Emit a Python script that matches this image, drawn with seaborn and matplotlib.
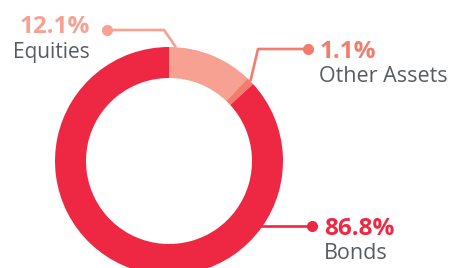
import numpy as np
import matplotlib
matplotlib.use("Agg")
import matplotlib.pyplot as plt
import seaborn as sns

labels = ["Equities", "Other Assets", "Bonds"]
values = [12.1, 1.1, 86.8]
pct_labels = ["12.1%", "1.1%", "86.8%"]
colors = ["#F6A192", "#F27D6C", "#EE2842"]

sns.set_theme(style="white")
plt.rcParams["font.family"] = ["Open Sans", "DejaVu Sans"]

W, H = 450, 268
fig = plt.figure(figsize=(W / 100, H / 100), dpi=100)
ax = fig.add_axes([0, 0, 1, 1])

cx, cy = 169, H - 161
R, width = 114, 31
wedges, _ = ax.pie(values, colors=colors, startangle=90, counterclock=False,
                   radius=R, center=(cx, cy), frame=True,
                   wedgeprops=dict(width=width, linewidth=0))
ax.set_xlim(0, W)
ax.set_ylim(0, H)
ax.set_aspect("equal")
ax.axis("off")

def ring_pt(angle):
    a = np.deg2rad(angle)
    return cx + R * np.cos(a), cy + R * np.sin(a)

lw, ms = 1.9, 7
pct_fs, lab_fs = 17.5, 15.5
grey = "#575C60"

# Equities
p0 = ring_pt(86.5)
elbow = (164, H - 30)
dot = (107, H - 30)
ax.plot([p0[0], elbow[0], dot[0]], [p0[1], elbow[1], dot[1]], color=colors[0], lw=lw, solid_capstyle="butt")
ax.plot(*dot, "o", color=colors[0], ms=ms)
ax.text(90, H - 33, pct_labels[0], color=colors[0], fontsize=pct_fs, fontweight="bold", ha="right", va="baseline")
ax.text(90, H - 58, labels[0], color=grey, fontsize=15, ha="right", va="baseline")

# Other Assets
w = wedges[1]
mid = (w.theta1 + w.theta2) / 2
p0 = ring_pt(mid)
elbow = (258, H - 49)
dot = (308, H - 49)
ax.plot([p0[0], elbow[0], dot[0]], [p0[1], elbow[1], dot[1]], color=colors[1], lw=lw, solid_capstyle="butt")
ax.plot(*dot, "o", color=colors[1], ms=ms)
ax.text(320, H - 58, pct_labels[1], color=colors[1], fontsize=pct_fs, fontweight="bold", ha="left", va="baseline")
ax.text(319, H - 82, labels[1], color=grey, fontsize=lab_fs, ha="left", va="baseline")

# Bonds
p0 = ring_pt(-34.7)
dot = (312, H - 226)
ax.plot([p0[0] - 3, dot[0]], [dot[1], dot[1]], color=colors[2], lw=lw, solid_capstyle="butt")
ax.plot(*dot, "o", color=colors[2], ms=ms)
ax.text(324, H - 235, pct_labels[2], color=colors[2], fontsize=pct_fs, fontweight="bold", ha="left", va="baseline")
ax.text(324, H - 259, labels[2], color=grey, fontsize=lab_fs, ha="left", va="baseline")

fig.savefig("out.png", dpi=100)
